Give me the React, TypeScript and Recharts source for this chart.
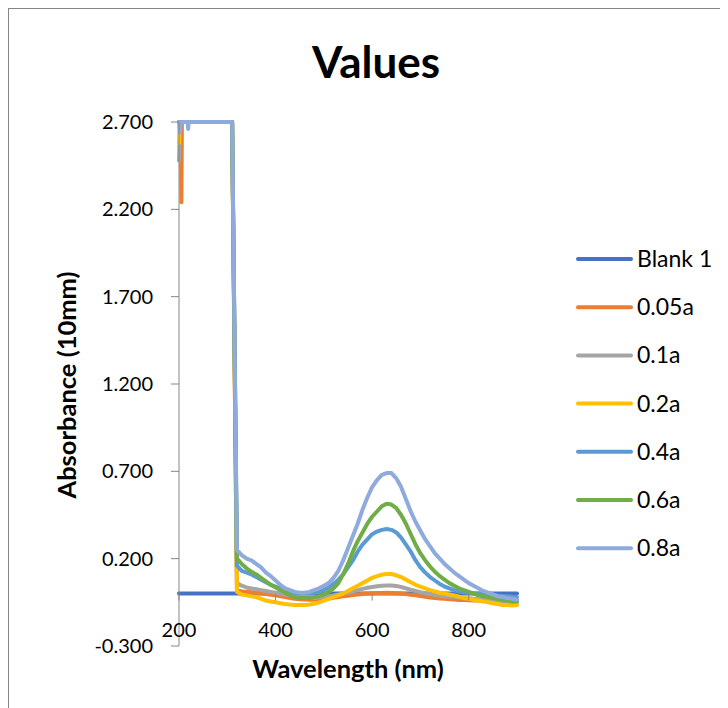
import React from "react"
import { Legend, Line, LineChart, XAxis, YAxis } from "recharts"

// wavelength grid (nm)
const wavelengths = [
  200, 202, 204, 205, 206, 218, 219, 220, 310,
  320, 330, 340, 350, 360, 370, 380, 390, 400, 410,
  420, 430, 440, 450, 460, 470, 480, 490, 500, 510,
  520, 530, 540, 550, 560, 570, 580, 590, 600, 610,
  620, 630, 640, 650, 660, 670, 680, 690, 700, 710,
  720, 730, 740, 750, 760, 770, 780, 790, 800, 810,
  820, 830, 840, 850, 860, 870, 880, 890, 900,
]

const blank1 = [
  0, 0, 0, 0, 0, 0, 0, 0, 0,
  0, 0, 0, 0, 0, 0, 0, 0, 0, 0,
  0, 0, 0, 0, 0, 0, 0, 0, 0, 0,
  0, 0, 0, 0, 0, 0, 0, 0, 0, 0,
  0, 0, 0, 0, 0, 0, 0, 0, 0, 0,
  0, 0, 0, 0, 0, 0, 0, 0, 0, 0,
  0, 0, 0, 0, 0, 0, 0, 0, 0,
]

const a005 = [
  2.7, 2.7, 2.7, 2.24, 2.7, 2.7, 2.7, 2.7, 2.7,
  0.02, 0.012, 0.01, 0.008, 0.005, 0.0, -0.003, -0.006, -0.01, -0.015,
  -0.02, -0.025, -0.03, -0.032, -0.034, -0.035, -0.035, -0.034, -0.032, -0.028,
  -0.024, -0.02, -0.016, -0.012, -0.008, -0.005, -0.002, 0.0, 0.002, 0.003,
  0.004, 0.005, 0.004, 0.002, 0.0, -0.003, -0.006, -0.01, -0.014, -0.018,
  -0.022, -0.025, -0.028, -0.03, -0.032, -0.034, -0.036, -0.037, -0.038, -0.039,
  -0.04, -0.041, -0.042, -0.043, -0.044, -0.045, -0.046, -0.047, -0.048,
]

const a01 = [
  2.48, 2.7, 2.7, 2.7, 2.7, 2.7, 2.7, 2.7, 2.7,
  0.06, 0.045, 0.035, 0.03, 0.025, 0.02, 0.015, 0.01, 0.005, 0.0,
  -0.005, -0.01, -0.015, -0.02, -0.025, -0.025, -0.025, -0.022, -0.02, -0.015,
  -0.01, -0.005, 0.0, 0.005, 0.012, 0.02, 0.027, 0.033, 0.038, 0.042,
  0.045, 0.047, 0.047, 0.044, 0.038, 0.03, 0.022, 0.015, 0.008, 0.002,
  -0.003, -0.008, -0.012, -0.015, -0.018, -0.02, -0.022, -0.025, -0.027, -0.03,
  -0.032, -0.034, -0.036, -0.038, -0.04, -0.042, -0.044, -0.045, -0.046,
]

const a02 = [
  2.58, 2.7, 2.7, 2.7, 2.7, 2.7, 2.7, 2.7, 2.7,
  0.01, -0.005, -0.01, -0.015, -0.02, -0.03, -0.04, -0.045, -0.05, -0.055,
  -0.06, -0.063, -0.065, -0.065, -0.065, -0.062, -0.058, -0.05, -0.04, -0.03,
  -0.02, -0.01, 0.0, 0.015, 0.03, 0.045, 0.06, 0.075, 0.09, 0.1,
  0.108, 0.112, 0.112, 0.105, 0.095, 0.08, 0.065, 0.05, 0.04, 0.03,
  0.02, 0.012, 0.005, 0.0, -0.005, -0.01, -0.018, -0.025, -0.03, -0.035,
  -0.04, -0.045, -0.05, -0.055, -0.06, -0.065, -0.065, -0.068, -0.065,
]

const a04 = [
  2.7, 2.7, 2.7, 2.7, 2.7, 2.7, 2.7, 2.7, 2.7,
  0.16, 0.13, 0.12, 0.11, 0.095, 0.08, 0.065, 0.05, 0.04, 0.03,
  0.02, 0.01, 0.005, 0.0, 0.0, 0.0, 0.005, 0.01, 0.02, 0.035,
  0.055, 0.08, 0.11, 0.15, 0.19, 0.24, 0.28, 0.31, 0.34, 0.355,
  0.365, 0.37, 0.365, 0.35, 0.32, 0.28, 0.24, 0.19, 0.15, 0.12,
  0.095, 0.075, 0.055, 0.04, 0.03, 0.02, 0.012, 0.008, 0.005, 0.002,
  0.0, -0.003, -0.006, -0.01, -0.012, -0.015, -0.015, -0.018, -0.02,
]

const a06 = [
  2.7, 2.7, 2.7, 2.7, 2.7, 2.7, 2.7, 2.7, 2.7,
  0.2, 0.17, 0.145, 0.125, 0.11, 0.09, 0.07, 0.05, 0.035, 0.02,
  0.005, -0.01, -0.02, -0.025, -0.025, -0.025, -0.02, -0.015, -0.005, 0.01,
  0.03, 0.06, 0.11, 0.17, 0.24, 0.3, 0.35, 0.4, 0.44, 0.47,
  0.5, 0.515, 0.51, 0.49, 0.45, 0.4, 0.34, 0.28, 0.23, 0.19,
  0.155, 0.125, 0.1, 0.08, 0.06, 0.045, 0.03, 0.02, 0.01, 0.0,
  -0.01, -0.015, -0.02, -0.025, -0.03, -0.035, -0.04, -0.045, -0.045,
]

const a08 = [
  2.7, 2.64, 2.7, 2.7, 2.7, 2.7, 2.66, 2.7, 2.7,
  0.25, 0.22, 0.2, 0.19, 0.17, 0.15, 0.12, 0.1, 0.075, 0.05,
  0.03, 0.02, 0.01, 0.005, 0.005, 0.01, 0.02, 0.03, 0.045, 0.06,
  0.09, 0.13, 0.19, 0.26, 0.33, 0.4, 0.48, 0.55, 0.61, 0.65,
  0.68, 0.69, 0.69, 0.66, 0.61, 0.54, 0.47, 0.41, 0.36, 0.31,
  0.27, 0.23, 0.2, 0.17, 0.145, 0.12, 0.1, 0.08, 0.06, 0.045,
  0.03, 0.015, 0.005, -0.005, -0.015, -0.02, -0.025, -0.03, -0.035,
]

const series = [
  { key: "blank1", name: "Blank 1", color: "#4472C4", values: blank1 },
  { key: "a005", name: "0.05a", color: "#ED7D31", values: a005 },
  { key: "a01", name: "0.1a", color: "#A5A5A5", values: a01 },
  { key: "a02", name: "0.2a", color: "#FFC000", values: a02 },
  { key: "a04", name: "0.4a", color: "#5B9BD5", values: a04 },
  { key: "a06", name: "0.6a", color: "#70AD47", values: a06 },
  { key: "a08", name: "0.8a", color: "#8FAADC", values: a08 },
]

const xTicks = [200, 400, 600, 800]
const yTicks = [-0.3, 0.2, 0.7, 1.2, 1.7, 2.2, 2.7]

const data = wavelengths.map((w, i) => {
  const row: Record<string, number> = { w }
  series.forEach(s => { row[s.key] = s.values[i] })
  return row
})

const W = 719
const H = 699
const M = { top: 113, left: 70, right: 211, bottom: 22 }
const X_AXIS_H = 40
const PLOT_H = H - M.top - M.bottom - X_AXIS_H
const Y_MIN = -0.3
const Y_MAX = 2.7
const zeroY = M.top + (PLOT_H * Y_MAX) / (Y_MAX - Y_MIN)
const AXIS_GREY = "#868686"
const LINE_W = 4
const TITLE_FS = 25.5

// Excel puts the category labels next to the axis that crosses at 0
function XTick(props: any) {
  const { x, payload } = props
  return (
    <g>
      <line x1={x} x2={x} y1={zeroY} y2={zeroY + 7} stroke={AXIS_GREY} />
      <text x={x} y={zeroY + 43} textAnchor="middle" fontSize={20} fill="#000">
        {payload.value}
      </text>
    </g>
  )
}

// legend keeps the series order (recharts sorts by name otherwise)
function LegendBox() {
  return (
    <svg width={160} height={340}>
      {series.map((s, i) => {
        const cy = 19 + i * 48.2
        return (
          <g key={s.key}>
            <line x1={8} x2={61} y1={cy} y2={cy} stroke={s.color} strokeWidth={LINE_W} strokeLinecap="round" />
            <text x={67} y={cy + 8} fontSize={23} fill="#000" fontFamily="Lato">{s.name}</text>
          </g>
        )
      })}
    </svg>
  )
}

export default function App() {
  return (
    <div style={{ position: "relative", width: 720, height: 700, overflow: "hidden", fontFamily: "Lato" }}>
      <div style={{ position: "absolute", left: 0, top: 0, width: 760, height: 740, border: `1px solid ${AXIS_GREY}` }} />
      <div style={{ position: "absolute", left: 0, top: 27, width: 736, textAlign: "center", fontSize: 44, fontWeight: 700, lineHeight: "52px", color: "#000" }}>
        Values
      </div>
      <div style={{ position: "absolute", left: 1, top: 1 }}>
        <LineChart width={W} height={H} data={data} margin={M}>
          <XAxis
            dataKey="w"
            type="number"
            domain={[200, 900]}
            ticks={xTicks}
            axisLine={false}
            tickLine={false}
            height={X_AXIS_H}
            tick={<XTick />}
            interval={0}
            label={{
              content: (p: any) => (
                <text x={p.viewBox.x + p.viewBox.width / 2} y={p.viewBox.y + 32} textAnchor="middle" fontSize={TITLE_FS} fontWeight={700} fill="#000">
                  Wavelength (nm)
                </text>
              ),
            }}
          />
          <YAxis
            type="number"
            domain={[Y_MIN, Y_MAX]}
            ticks={yTicks}
            width={100}
            interval={0}
            tickFormatter={(v: number) => v.toFixed(3)}
            tick={{ fontSize: 20, fill: "#000" }}
            tickSize={8}
            tickMargin={18}
            stroke={AXIS_GREY}
            label={{
              content: (p: any) => {
                const cx = p.viewBox.x - 3
                const cy = p.viewBox.y + p.viewBox.height / 2 + 1
                return (
                  <text x={cx} y={cy} transform={`rotate(-90, ${cx}, ${cy})`} textAnchor="middle" fontSize={TITLE_FS} fontWeight={700} fill="#000">
                    Absorbance (10mm)
                  </text>
                )
              },
            }}
          />
          <Legend
            layout="horizontal"
            align="center"
            verticalAlign="middle"
            wrapperStyle={{ left: 561, top: 231, width: 160, height: 340 }}
            content={<LegendBox />}
          />
          {series.map(s => (
            <Line
              key={s.key}
              dataKey={s.key}
              name={s.name}
              type="linear"
              stroke={s.color}
              strokeWidth={LINE_W}
              strokeLinecap="round"
              strokeLinejoin="round"
              dot={false}
              activeDot={false}
              isAnimationActive={false}
            />
          ))}
        </LineChart>
      </div>
    </div>
  )
}
